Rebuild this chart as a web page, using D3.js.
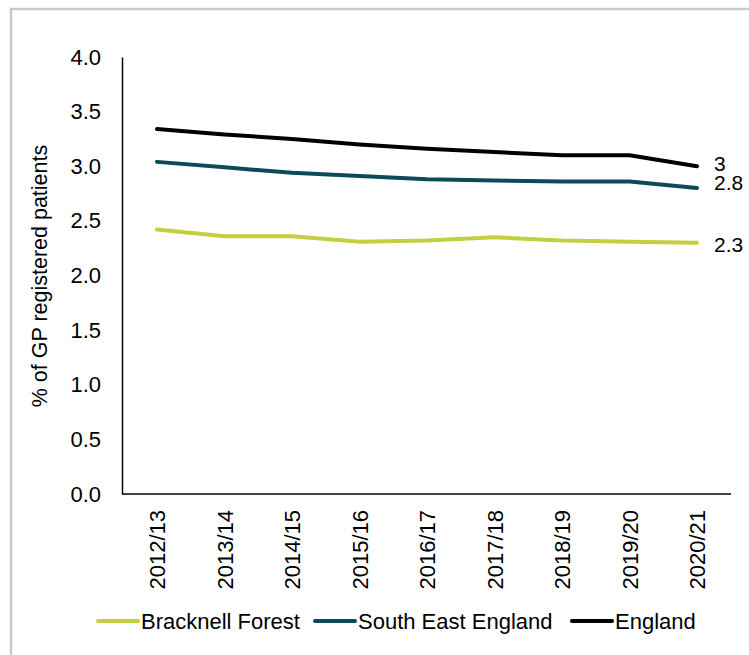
<!DOCTYPE html>
<html>
<head>
<meta charset="utf-8">
<script src="https://cdn.jsdelivr.net/npm/d3@7"></script>
<style>
  html, body { margin: 0; padding: 0; background: #fff; }
  svg { display: block; font-family: "Liberation Sans", Arial, sans-serif; }
  svg text { font-family: "Liberation Sans", Arial, sans-serif; font-size: 22px; fill: #000; }
</style>
</head>
<body>
<svg id="chart" width="749" height="655"></svg>
<script>
// Financial years shown on the x axis
const years = ["2012/13", "2013/14", "2014/15", "2015/16", "2016/17", "2017/18", "2018/19", "2019/20", "2020/21"];

// Percentage of GP registered patients, by area
const bracknellForest = [2.42, 2.36, 2.36, 2.31, 2.32, 2.35, 2.32, 2.31, 2.3];
const southEastEngland = [3.04, 2.99, 2.94, 2.91, 2.88, 2.87, 2.86, 2.86, 2.8];
const england = [3.34, 3.29, 3.25, 3.20, 3.16, 3.13, 3.10, 3.10, 3.0];

// Labels printed at the end of each line
const endLabels = ["2.3", "2.8", "3"];

const yTicks = [0, 0.5, 1.0, 1.5, 2.0, 2.5, 3.0, 3.5, 4.0];

// Series styling; labelShift nudges the end label so neighbouring labels don't collide
const series = [
  { name: "Bracknell Forest", values: bracknellForest, color: "#c4cf3f", label: endLabels[0], labelShift: 2, legendX: 98 },
  { name: "South East England", values: southEastEngland, color: "#0c4a59", label: endLabels[1], labelShift: -5, legendX: 315 },
  { name: "England", values: england, color: "#000000", label: endLabels[2], labelShift: -3, legendX: 572 }
];

const svg = d3.select("#chart");

// Outer frame
svg.append("rect")
  .attr("x", 11).attr("y", 9)
  .attr("width", 760).attr("height", 680)
  .attr("fill", "none")
  .attr("stroke", "#c9c9c9")
  .attr("stroke-width", 2.5);

const plot = { left: 122, right: 731, top: 57, bottom: 494 };

const x = d3.scalePoint()
  .domain(years)
  .range([plot.left + 35, plot.right - 34]);

const y = d3.scaleLinear()
  .domain([0, 4])
  .range([plot.bottom, plot.top]);

// Y axis
const yAxis = svg.append("g")
  .attr("transform", `translate(${plot.left},0)`)
  .call(d3.axisLeft(y).tickValues(yTicks).tickFormat(d3.format(".1f")).tickSize(0).tickPadding(21));
yAxis.attr("font-size", null).attr("font-family", null);
yAxis.select(".domain").attr("stroke", "#000").attr("stroke-width", 1.5);

// X axis
const xAxis = svg.append("g")
  .attr("transform", `translate(0,${plot.bottom})`)
  .call(d3.axisBottom(x).tickSize(0).tickSizeOuter(0));
xAxis.attr("font-size", null).attr("font-family", null);
xAxis.select(".domain")
  .attr("d", `M${plot.left},0H${plot.right}`)
  .attr("stroke", "#000").attr("stroke-width", 1.5);
xAxis.selectAll("text")
  .attr("text-anchor", "end")
  .attr("dy", "0.35em")
  .attr("transform", "translate(0,16) rotate(-90)")
  .attr("x", 0).attr("y", 0);

// Y axis title
svg.append("text")
  .attr("transform", "translate(47,276) rotate(-90)")
  .attr("text-anchor", "middle")
  .style("font-size", "21.5px")
  .text("% of GP registered patients");

// Lines
const line = d3.line()
  .x((d, i) => x(years[i]))
  .y(d => y(d));

series.forEach(s => {
  svg.append("path")
    .datum(s.values)
    .attr("fill", "none")
    .attr("stroke", s.color)
    .attr("stroke-width", 4)
    .attr("stroke-linecap", "round")
    .attr("stroke-linejoin", "round")
    .attr("d", line);

  const last = s.values[s.values.length - 1];
  svg.append("text")
    .attr("x", x(years[years.length - 1]) + 17)
    .attr("y", y(last) + s.labelShift)
    .attr("dy", "0.35em")
    .style("font-size", "21px")
    .text(s.label);
});

// Legend
const legendY = 621;
series.forEach(s => {
  svg.append("line")
    .attr("x1", s.legendX).attr("x2", s.legendX + 40)
    .attr("y1", legendY).attr("y2", legendY)
    .attr("stroke", s.color)
    .attr("stroke-width", 4)
    .attr("stroke-linecap", "round");
  svg.append("text")
    .attr("x", s.legendX + 43)
    .attr("y", legendY)
    .attr("dy", "0.35em")
    .text(s.name);
});
</script>
</body>
</html>
